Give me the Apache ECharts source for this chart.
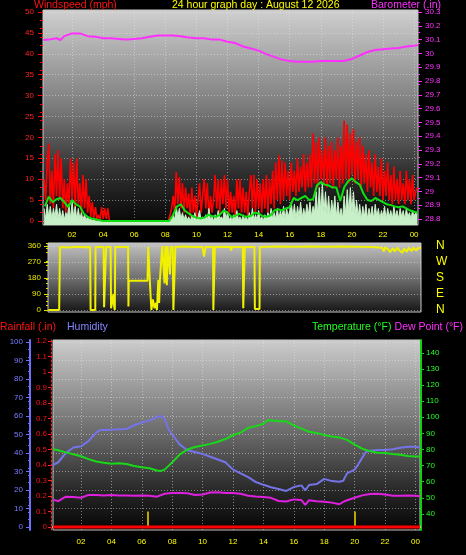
<!DOCTYPE html>
<html><head><meta charset="utf-8">
<script src="https://cdn.jsdelivr.net/npm/echarts@6/dist/echarts.min.js"></script>
<style>html,body{margin:0;padding:0;background:#000;}#c{width:466px;height:555px;}</style>
</head><body><div id="c"></div><script>
// ---------- DATA ----------
const hourTicks = [2,4,6,8,10,12,14,16,18,20,22,24];
const windTicks = [0,5,10,15,20,25,30,35,40,45,50];
const baroTicks = [28.8,28.9,29.0,29.1,29.2,29.3,29.4,29.5,29.6,29.7,29.8,29.9,30.0,30.1,30.2,30.3];
const dirTicks = [0,90,180,270,360];
const dirLetters = {0:'N',90:'E',180:'S',270:'W',360:'N'};
const humTicks = [0,10,20,30,40,50,60,70,80,90,100];
const rainTicks = [0,0.1,0.2,0.3,0.4,0.5,0.6,0.7,0.8,0.9,1.0,1.1,1.2];
const tempTicks = [40,50,60,70,80,90,100,110,120,130,140];

// wind gust (mph), sampled every 0.1 h starting 00:12
const sampleStartHour = 0.2, sampleStepHour = 0.1;
const gustMph = [
 10,5,14,18.5,4,12,3,16,6,17,
 5,15,3,10,2,9,4,15,5,14,
 3,15,4,9,2,11,3,10,2,6,
 1,4.5,0.5,3.3,0.5,1.5,0.3,3.3,0.5,3,
 0.5,3,0,0,0,0,0,0,0,0,
 0,0,0,0,0,0,0,0,0,0,
 0,0,0,0,0,0,0,0,0,0,
 0,0,0,0,0,0,0,0,0,0,
 0,0,3,6,2,11.7,4,10.5,3,9,
 2,8,3,6.6,1,8,2,6,1,5,
 9,2,6,10,3,9,1,6,2,5,
 11,3,10,2,10,4,11,3,10,2,
 7,2,6,1,10,3,10,2,8,2,
 7,1,7,11,3,11,2,10,3,9,
 2,10,3,11,2,10,4,12,3,14,
 5,15.7,4,14.5,5,14,6,12,5,14,
 7,12,6,15,7,13,8,16,7,14,
 8,16,8,21,9,19,8,20,10,17,
 9,20,8,18,9,19,8,17,10,20,
 8,18,9,24,10,23,9,21,11,22,
 9,19,10,20,8,18,9,16,7,17,
 8,14,6,16,7,13,6,15,5,12,
 6,14,5,11,4,13,5,10,4,12,
 5,9,4,12,5,10,4,11,5,7,
 8];
// wind speed (mph), same sampling
const speedMph = [
 3,0.5,4,1,3.5,0.5,3,1,4,0.5,
 3,0.5,2.5,0.3,2,1,4,0.5,4.5,1,
 3.5,0.5,3,0.5,2,0.3,1.5,0.3,1,0.2,
 0.8,0,0.5,0,0.3,0,0,0,0,0,
 0,0,0,0,0,0,0,0,0,0,
 0,0,0,0,0,0,0,0,0,0,
 0,0,0,0,0,0,0,0,0,0,
 0,0,0,0,0,0,0,0,0,0,
 0,0,0.5,1.5,0.3,3.5,1,3,0.5,2,
 0.3,1.5,0.2,1,0,1.2,0.3,2,0,1,
 2.5,0.2,1,0.3,1.5,0,3,0.3,1,0,
 1.5,0.3,2.5,0.5,1,0.3,3,0.5,2,0.2,
 1,0,1.5,0.3,2.5,0.3,1,0,1.5,0.2,
 1,0,2,0.5,3,0.3,1.5,0.2,2.5,0.3,
 1,0,1.5,0.3,2,0.5,3,0.5,2,0.5,
 3,0.5,2.5,0.8,3.5,0.5,3,1,2.5,4.5,
 1,4,0.5,3.5,1,4.5,0.8,3,1,4,
 1.5,4.5,1,3.5,2,7,1.5,8,2,9,
 2,7,1.5,6,1,5,2,6,1,4.5,
 1,3,0.5,6,1.5,7.5,2,8,2,7,
 1.5,5,1,4,0.5,3.5,1,4,0.5,3,
 1,3.5,0.5,4,1,3,0.5,2.5,1,3.5,
 0.5,3,1,2.5,0.5,3.5,1,2.5,0.5,3,
 1,2.5,0.5,3,1,2,0.5,2.5,1,2,
 1.5];
// average wind speed (mph), every 0.25 h from 00:15
const avgStartHour = 0.25, avgStepHour = 0.25;
const avgMph = [
 3.5,5.8,4.5,5.2,5.5,4.5,3.3,5.0,4.0,3.5,1.8,1.0,0.6,0.4,0.2,0,
 0,0,0,0,0,0,0,0,0,0,0,0,0,0,0,0,0,
 1.5,3.5,4.0,2.5,1.8,1.2,0.8,0.6,0.8,1.5,1.2,1.0,1.5,2.5,2.0,1.0,
 1.2,1.7,1.2,1.0,1.2,2.0,1.8,1.2,1.0,1.3,2.5,2.8,2.5,3.0,3.3,5.5,
 5.0,5.5,6.0,5.0,5.2,8.5,9.3,8.7,8.5,8.0,8.0,4.8,8.0,9.5,10.2,9.3,
 8.7,6.5,5.0,4.8,5.5,5.0,4.5,4.0,3.8,3.5,3.3,3.5,3.0,2.5,2.2,2.0];
// barometer (inHg)
const baroHours = [0.15,0.5,1,1.25,1.5,2,2.5,3,3.5,4,4.5,5,5.5,6,6.5,7,7.5,8,8.5,9,9.5,10,10.5,11,11.5,12,12.5,13,13.5,14,14.5,15,15.5,16,16.5,17,17.5,18,18.5,19,19.5,20,20.5,21,21.5,22,22.5,23,23.5,24,24.25];
const baroInHg = [30.097,30.10,30.11,30.097,30.125,30.145,30.145,30.125,30.12,30.11,30.11,30.105,30.10,30.105,30.11,30.12,30.13,30.13,30.13,30.125,30.115,30.11,30.11,30.10,30.10,30.085,30.075,30.05,30.035,30.02,29.995,29.975,29.955,29.945,29.94,29.94,29.94,29.945,29.945,29.945,29.945,29.96,29.985,30.01,30.025,30.03,30.035,30.04,30.05,30.055,30.06];
// wind direction [hour, degrees]
const windDirection = [[0.15,0],[0.85,0],[0.9,355],[1.5,352],[2.0,356],[2.5,353],[2.85,355],[2.88,0],[3.18,0],[3.2,355],[3.72,355],[3.75,15],[3.85,15],[3.88,355],[4.17,355],[4.2,10],[4.3,60],[4.35,90],[4.4,20],[4.44,0],[4.47,355],[5.3,355],[5.32,20],[5.34,165],[6.55,165],[6.6,355],[6.68,355],[6.7,165],[6.78,160],[6.8,0],[6.9,60],[7.0,10],[7.1,40],[7.16,0],[7.25,170],[7.3,40],[7.35,165],[7.45,170],[7.5,360],[7.6,355],[7.65,150],[7.7,360],[7.78,355],[7.8,140],[7.84,360],[7.95,355],[8.0,200],[8.05,355],[8.18,355],[8.22,0],[8.3,10],[8.35,355],[9.0,357],[9.5,354],[10.1,355],[10.2,300],[10.3,355],[10.78,355],[10.8,0],[10.88,0],[10.9,355],[11.5,356],[11.9,354],[11.95,335],[12.0,355],[12.7,355],[12.73,10],[12.8,10],[12.83,355],[13.45,355],[13.48,5],[13.78,5],[13.8,355],[15,357],[16,356],[17,357],[18,356],[19,357],[20,356],[21,355],[21.7,350],[21.8,330],[21.9,352],[22.1,340],[22.2,325],[22.4,348],[22.5,330],[22.7,350],[22.8,335],[23.0,322],[23.1,345],[23.3,328],[23.4,350],[23.6,332],[23.7,350],[23.9,335],[24.0,348],[24.2,350]];
// humidity (%) [hour, value]
const humidity = [[0.16,33.5],[0.5,35],[1,40],[1.5,43],[2,43.6],[2.5,46.5],[3,51],[3.25,52.4],[3.5,52.4],[4,52.6],[4.5,52.8],[5,53],[5.5,55],[6,56.5],[6.5,57.5],[7,59.5],[7.25,60],[7.5,58.5],[7.75,53],[8,50],[8.5,44.5],[9,41.5],[9.5,40.5],[10,39.5],[10.5,38],[11,36.5],[11.5,35],[12,31],[12.5,29],[13,27],[13.5,24.3],[14,22.8],[14.5,21.5],[15,20.5],[15.5,19.5],[16,21.6],[16.5,22.5],[16.75,19.8],[17,22.7],[17.5,23.2],[18,26],[18.5,24.8],[19,24.5],[19.25,25],[19.5,29],[20,31],[20.25,34],[20.5,37.5],[20.75,40.7],[21,41.2],[21.5,41.6],[22,41.6],[22.5,42],[23,42.8],[23.5,43.4],[24,43.4],[24.3,43]];
// temperature (F)
const temperature = [[0.16,80.2],[0.5,79.5],[1,78.2],[1.5,77],[2,75.8],[2.5,74],[3,72.5],[3.5,71.8],[4,71.2],[4.5,71.5],[5,71],[5.5,69.8],[6,69],[6.5,68.3],[7,67],[7.25,66.7],[7.5,67.5],[8,72],[8.5,77],[9,80],[9.5,81.5],[10,82.5],[10.5,83.5],[11,84.8],[11.5,86.5],[12,89],[12.5,90.5],[13,93.5],[13.5,94.5],[14,96],[14.25,98],[14.5,98.2],[15,97.6],[15.5,97.5],[16,95],[16.5,93],[17,91],[17.5,90.3],[18,89],[18.5,88],[19,87.5],[19.5,86],[20,83],[20.5,80.5],[21,79],[21.5,78],[22,77.8],[22.5,77.2],[23,76.8],[23.5,76],[24,75.7],[24.3,75.6]];
// dew point (F)
const dewPoint = [[0.16,48.7],[0.5,48],[1,50.7],[1.5,50.5],[2,50],[2.5,51.8],[3,51.8],[3.5,51.5],[4,51.8],[4.5,51.5],[5,51.5],[5.5,51.3],[6,51.5],[6.5,51.3],[7,50.7],[7.5,52.5],[8,53],[8.5,53],[9,52.8],[9.5,51.8],[10,52],[10.5,53.3],[11,53.5],[11.5,53],[12,53],[12.5,52.5],[13,51.3],[13.5,50.8],[14,50.5],[14.5,50],[15,48],[15.5,47.7],[16,49],[16.5,48.6],[16.75,45.6],[17,48.5],[17.5,47.8],[18,47.6],[18.5,47],[19,46],[19.25,47.5],[19.5,48.5],[20,50],[20.5,51.5],[21,52.4],[21.5,52.5],[22,52],[22.5,51.3],[23,51.3],[23.5,51.5],[24,51.2],[24.3,51]];
// rainfall (in)
const rainHours = [0.16, 24.3];
const rainIn = [0, 0];
// sunrise / sunset markers (hour)
const sunEventHours = [6.4, 20.0];
const sunMarkerIn = 0.1;

// ---------- CHART ----------
const FONT = '"Liberation Sans", Arial, sans-serif';
const fmtHour = v => String(Math.round(v) % 24).padStart(2, '0');
const dotted = {color: 'rgba(230,230,230,0.5)', type: [1, 2], width: 1};
const grad = stops => ({type: 'linear', x: 0, y: 0, x2: 0, y2: 1, colorStops: stops.map(s => ({offset: s[0], color: s[1]}))});
const sampled = (arr, start, step) => arr.map((v, i) => [+(start + i * step).toFixed(3), v]);

const chart = echarts.init(document.getElementById('c'), null, {renderer: 'canvas'});
const txt = (text, pos, top, color) => Object.assign({text, top, padding: 0,
  textStyle: {color, fontSize: 10.5, fontWeight: 'normal', fontFamily: FONT}}, pos);

const option = {
  backgroundColor: '#000',
  animation: false,
  title: [
    txt('Windspeed (mph)', {left: 34}, 0, '#ff1010'),
    txt('24 hour graph day : August 12 2026', {left: 172}, 0, '#ffff00'),
    txt('Barometer (.in)', {left: 371}, 0, '#ff30ff'),
    txt('Rainfall (.in)', {left: 0}, 322, '#ff1010'),
    txt('Humidity', {left: 67}, 322, '#8484ff'),
    txt('Temperature (°F)', {left: 312}, 322, '#20ff20'),
    txt('Dew Point (°F)', {right: 3}, 322, '#ff30ff')
  ],
  grid: [
    {left: 43, top: 10, width: 375, height: 215, show: true, borderColor: '#c8c8c8', borderWidth: 1,
     backgroundColor: grad([[0, '#d0d0d0'], [0.45, '#7c7c7c'], [0.75, '#303030'], [1, '#050505']])},
    {left: 48, top: 243, width: 373, height: 69, show: true, borderColor: '#c8c8c8', borderWidth: 1,
     backgroundColor: grad([[0, '#c4c4c4'], [0.5, '#707070'], [1, '#151515']])},
    {left: 53, top: 340, width: 367, height: 190, show: true, borderColor: '#c8c8c8', borderWidth: 1,
     backgroundColor: grad([[0, '#cdcdcd'], [0.5, '#686868'], [0.8, '#262626'], [1, '#050505']])}
  ],
  xAxis: [
    {gridIndex: 0, type: 'value', min: 0.13, max: 24.25,
     axisLine: {show: false}, axisTick: {show: false, customValues: hourTicks},
     axisLabel: {customValues: hourTicks, formatter: fmtHour, color: '#ffff00', fontSize: 8, margin: 6, fontFamily: FONT},
     splitLine: {show: true, lineStyle: dotted}},
    {gridIndex: 1, type: 'value', min: 0.13, max: 24.2,
     axisLine: {show: false}, axisTick: {show: false, customValues: hourTicks},
     axisLabel: {show: false, customValues: hourTicks}, splitLine: {show: false}},
    {gridIndex: 2, type: 'value', min: 0.158, max: 24.3,
     axisLine: {show: true, lineStyle: {color: '#d0d0d0', width: 2}}, axisTick: {show: false, customValues: hourTicks},
     axisLabel: {customValues: hourTicks, formatter: fmtHour, color: '#ffff00', fontSize: 8, margin: 8, fontFamily: FONT},
     splitLine: {show: true, lineStyle: dotted}}
  ],
  yAxis: [
    {gridIndex: 0, type: 'value', position: 'left', min: -0.96, max: 50.48,
     axisLine: {show: false},
     axisTick: {show: true, customValues: windTicks, length: 5, lineStyle: {color: '#ff0000'}},
     minorTick: {show: true, splitNumber: 5, length: 3, lineStyle: {color: '#ff0000'}},
     axisLabel: {customValues: windTicks, color: '#ff2020', fontSize: 8, margin: 9, fontFamily: FONT},
     splitLine: {show: true, lineStyle: dotted}},
    {gridIndex: 0, type: 'value', position: 'right', min: 28.757, max: 30.3145,
     axisLine: {show: false},
     axisTick: {show: true, customValues: baroTicks, length: 4, lineStyle: {color: '#ff30ff'}},
     minorTick: {show: true, splitNumber: 4, length: 2, lineStyle: {color: '#ff30ff'}},
     axisLabel: {customValues: baroTicks, formatter: v => String(+v.toFixed(1)), color: '#ff30ff', fontSize: 8, margin: 7, fontFamily: FONT},
     splitLine: {show: false}},
    {gridIndex: 1, type: 'value', position: 'left', min: -11.25, max: 376.9,
     axisLine: {show: false},
     axisTick: {show: true, customValues: dirTicks, length: 4, lineStyle: {color: '#e0e000'}},
     minorTick: {show: true, splitNumber: 4, length: 2, lineStyle: {color: '#e0e000'}},
     axisLabel: {customValues: dirTicks, color: '#e6e600', fontSize: 8, margin: 7, fontFamily: FONT},
     splitLine: {show: true, lineStyle: dotted}},
    {gridIndex: 1, type: 'value', position: 'right', min: -11.25, max: 376.9,
     axisLine: {show: false}, axisTick: {show: false, customValues: dirTicks},
     axisLabel: {customValues: dirTicks, formatter: v => dirLetters[Math.round(v)] || '', color: '#ffff00', fontSize: 12, margin: 15, fontFamily: FONT},
     splitLine: {show: false}},
    {gridIndex: 2, type: 'value', position: 'left', offset: 23, min: -1.62, max: 101.08,
     axisLine: {show: true, lineStyle: {color: '#7070ff', width: 2}},
     axisTick: {show: true, customValues: humTicks, length: 4, lineStyle: {color: '#7070ff'}},
     minorTick: {show: true, splitNumber: 5, length: 2, lineStyle: {color: '#7070ff'}},
     axisLabel: {customValues: humTicks, color: '#7c7cff', fontSize: 8, margin: 7, fontFamily: FONT},
     splitLine: {show: true, lineStyle: dotted}},
    {gridIndex: 2, type: 'value', position: 'left', offset: 2, min: -0.0194, max: 1.2065,
     axisLine: {show: true, lineStyle: {color: '#ff2020', width: 1, type: [2, 2]}},
     axisTick: {show: true, customValues: rainTicks, length: 3, lineStyle: {color: '#ff2020'}},
     axisLabel: {customValues: rainTicks, formatter: v => String(+v.toFixed(1)), color: '#ff1010', fontSize: 8, margin: 4, fontFamily: FONT},
     splitLine: {show: false}},
    {gridIndex: 2, type: 'value', position: 'right', offset: 1, min: 30, max: 148,
     axisLine: {show: true, lineStyle: {color: '#10d010', width: 2}},
     axisTick: {show: true, customValues: tempTicks, length: 3, lineStyle: {color: '#10d010'}},
     minorTick: {show: true, splitNumber: 2, length: 2, lineStyle: {color: '#10d010'}},
     axisLabel: {customValues: tempTicks, color: '#20ff20', fontSize: 8, margin: 5, fontFamily: FONT},
     splitLine: {show: false}}
  ],
  series: [
    {name: 'Gust', type: 'line', xAxisIndex: 0, yAxisIndex: 0, showSymbol: false, symbol: 'none',
     data: sampled(gustMph, sampleStartHour, sampleStepHour), lineStyle: {color: '#ff0000', width: 1.6}, z: 2},
    {name: 'Speed', type: 'line', xAxisIndex: 0, yAxisIndex: 0, showSymbol: false, symbol: 'none',
     data: sampled(speedMph, sampleStartHour, sampleStepHour), lineStyle: {color: '#c8f0c8', width: 1},
     areaStyle: {color: '#c8f0c8', opacity: 1, origin: 'start'}, z: 3},
    {name: 'Average', type: 'line', xAxisIndex: 0, yAxisIndex: 0, showSymbol: false, symbol: 'none',
     data: sampled(avgMph, avgStartHour, avgStepHour), lineStyle: {color: '#10e010', width: 2}, z: 4},
    {name: 'Barometer', type: 'line', xAxisIndex: 0, yAxisIndex: 1, showSymbol: false, symbol: 'none',
     data: baroHours.map((h, i) => [h, baroInHg[i]]), lineStyle: {color: '#ff30ff', width: 2}, z: 5},
    {name: 'Direction', type: 'line', xAxisIndex: 1, yAxisIndex: 2, showSymbol: false, symbol: 'none',
     data: windDirection, lineStyle: {color: '#f0f000', width: 2}},
    {name: 'Rainfall', type: 'line', xAxisIndex: 2, yAxisIndex: 5, showSymbol: false, symbol: 'none',
     data: rainHours.map((h, i) => [h, rainIn[i]]), lineStyle: {color: '#ff0000', width: 3}, z: 6,
     markLine: {silent: true, symbol: 'none', label: {show: false},
       lineStyle: {color: '#b8a800', width: 2, type: 'solid'},
       data: sunEventHours.map(h => [{coord: [h, 0]}, {coord: [h, sunMarkerIn]}])}},
    {name: 'Humidity', type: 'line', xAxisIndex: 2, yAxisIndex: 4, showSymbol: false, symbol: 'none',
     data: humidity, lineStyle: {color: '#7474e8', width: 2}},
    {name: 'Temperature', type: 'line', xAxisIndex: 2, yAxisIndex: 6, showSymbol: false, symbol: 'none',
     data: temperature, lineStyle: {color: '#18d818', width: 2}},
    {name: 'Dew Point', type: 'line', xAxisIndex: 2, yAxisIndex: 6, showSymbol: false, symbol: 'none',
     data: dewPoint, lineStyle: {color: '#e020e0', width: 2}}
  ]
};
chart.setOption(option);
</script></body></html>
